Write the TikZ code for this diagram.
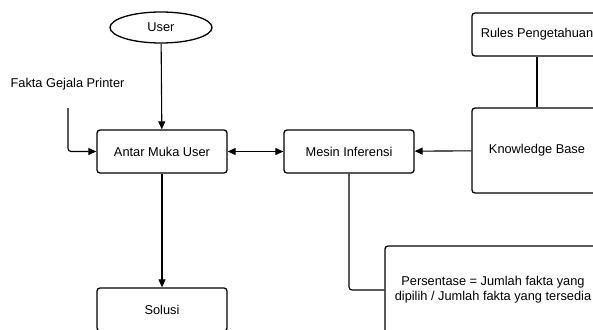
\documentclass[tikz,border=0pt]{standalone}
\usepackage{fontspec}
\setmainfont{Liberation Sans}
\usetikzlibrary{arrows.meta,shapes}

\tikzset{
  box/.style={draw, line width=1.3pt, rounded corners=3pt, minimum width=130pt, minimum height=43pt, inner sep=0pt, align=center},
  conn/.style={line width=1.1pt},
  tip/.style={-{Triangle[length=8pt,width=7pt]}}
}

\begin{document}
\begin{tikzpicture}[x=1pt, y=-1pt, font=\fontsize{12.8}{15}\selectfont]
      \useasboundingbox (0,0) rectangle (593,329);
      \clip (0,0) rectangle (593,329);
%      \draw [help lines] (0,0) grid [step=50] (593,329);
      \node [draw, ellipse, line width=1.3pt, minimum width=102pt, minimum height=31pt, inner sep=0pt] (user) at (161,27.5) {User};
      \node (fakta) at (67.5,84) {Fakta Gejala Printer};
      \coordinate (faktaend) at (68,108);
      \node [box] (antar) at (162,151.5) {Antar Muka User};
      \node [box] (mesin) at (349,151.5) {Mesin Inferensi};
      \node [box, minimum height=85pt] (kb) at (537,150.5) {Knowledge Base};
      \node [box] (rules) at (537,34.5) {Rules Pengetahuan};
      \node [box] (solusi) at (162,309.5) {Solusi};
      \node [box, minimum width=216pt, minimum height=88pt] (persen) at (493,290) {Persentase = Jumlah fakta yang\\dipilih / Jumlah fakta yang tersedia};
      % connectors
      \draw [conn, tip] (user) -- (antar);
      \draw [conn, tip, rounded corners=3pt] (faktaend) |- (antar.west);
      \draw [conn, {Triangle[length=8pt,width=7pt]}-{Triangle[length=8pt,width=7pt]}] (antar) -- (mesin);
      \draw [conn, tip] (kb) -- (mesin);
      \draw [conn] (rules) -- (kb);
      \draw [conn, tip] (antar) -- (solusi);
      \draw [conn, rounded corners=3pt] (mesin.south) |- (persen.west);
\end{tikzpicture}
\end{document}
